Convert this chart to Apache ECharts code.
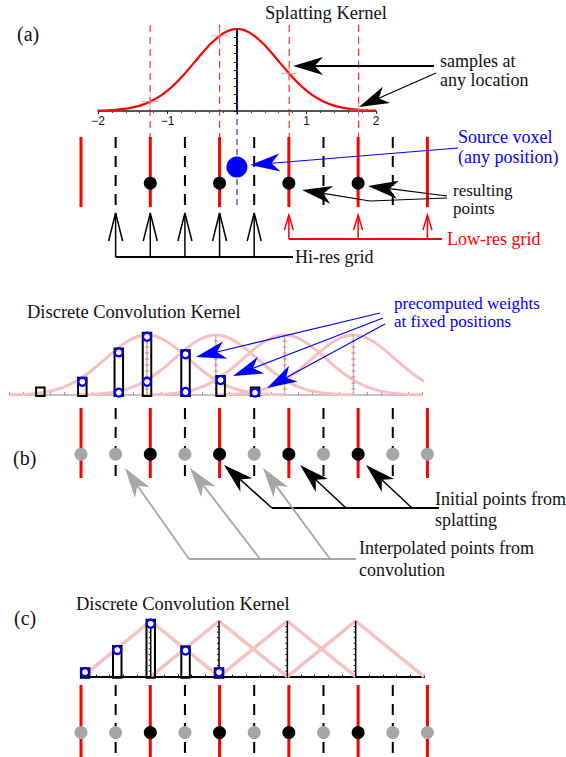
<!DOCTYPE html>
<html>
<head>
<meta charset="utf-8">
<script src="https://cdn.jsdelivr.net/npm/echarts@6/dist/echarts.min.js"></script>
<style>
  html, body { margin: 0; padding: 0; background: #fff; }
  #main { width: 566px; height: 757px; }
</style>
</head>
<body>
<div id="main"></div>
<script>
// ---------- lattice: low-res grid at integers, hi-res grid at half steps ----------
const lowResX = [0, 1, 2, 3, 4, 5];
const hiResX = [0.5, 1.5, 2.5, 3.5, 4.5];

// ---------- (a) splatting ----------
const kernelX = [-2, -1.875, -1.75, -1.625, -1.5, -1.375, -1.25, -1.125, -1, -0.875, -0.75, -0.625,
  -0.5, -0.375, -0.25, -0.125, 0, 0.125, 0.25, 0.375, 0.5, 0.625, 0.75, 0.875, 1, 1.125, 1.25,
  1.375, 1.5, 1.625, 1.75, 1.875, 2];
const kernelY = [0.004, 0.008, 0.014, 0.026, 0.044, 0.072, 0.114, 0.172, 0.249, 0.345, 0.458, 0.581,
  0.707, 0.823, 0.917, 0.979, 1.000, 0.979, 0.917, 0.823, 0.707, 0.581, 0.458, 0.345, 0.249, 0.172,
  0.114, 0.072, 0.044, 0.026, 0.014, 0.008, 0.004];
const kernelTickLabels = [-2, -1, 1, 2];
const sourceVoxelX = 2.25;          // lattice position of the source voxel
const splatPointsX = [1, 2, 3, 4];  // low-res points reached by the kernel
const hiResArrowX = [0.5, 1, 1.5, 2, 2.5];
const lowResArrowX = [3, 4, 5];

// ---------- (b) gaussian convolution ----------
const gaussCenters = [0, 1, 2, 3];
const weightPosB = [-1.55, -0.94, -0.41, 0, 0.56, 1.07, 1.57];
const weightsB = [[], [0.22], [0.71, 0.04], [0.97, 0.22], [0.68, 0.05], [0.25], [0.04]];
const splattedX = [1, 2, 3, 4];
const interpolatedX = [0, 0.5, 1.5, 2.5, 3.5, 4.5, 5];

// ---------- (c) tent convolution ----------
const tentX = [-1, 0, 1];
const tentY = [0, 1, 0];
const tentCenters = [0, 1, 2, 3];
const weightPosC = [-0.96, -0.49, 0, 0.51, 1.0];
const weightsC = [0.08, 0.48, 0.95, 0.47, 0.08];

// ---------- layout & style ----------
const RED = '#ff0000', BLUE = '#0000ff', PINK = '#f9c0c0', GRAY = '#a6a6a6', INK = '#111';
const SERIF = '"Liberation Serif", "Times New Roman", serif';
const DOT_LEVEL = 0.34, SOURCE_LEVEL = 0.57;
const LAT = { min: -1, max: 7, left: 11.7, width: 554.4 };
const grids = [
  { left: 98, top: 29, width: 278, height: 82 },              // (a) kernel
  { left: LAT.left, top: 137, width: LAT.width, height: 70 }, // (a) grid row
  { left: 9.4, top: 335, width: 412.8, height: 60 },          // (b) kernel
  { left: LAT.left, top: 408, width: LAT.width, height: 70 }, // (b) grid row
  { left: 82.4, top: 621, width: 341.6, height: 55.7 },       // (c) kernel
  { left: LAT.left, top: 685, width: LAT.width, height: 72 }  // (c) grid row
];
const BOX = { w: 8.5, pad: 4, below: 1, minH: 8.5 };

const hidden = (i) => ({ gridIndex: i, type: 'value', min: LAT.min, max: LAT.max, show: false });
const hiddenY = (i) => ({ gridIndex: i, type: 'value', min: 0, max: 1, show: false });

function vLines(axis, xs, style, z) {
  return {
    type: 'custom', xAxisIndex: axis, yAxisIndex: axis, clip: false, silent: true, z: z || 2,
    data: xs.map(x => [x, 0]),
    renderItem: (params, api) => {
      const t = api.coord([api.value(0), 1]);
      const b = api.coord([api.value(0), 0]);
      return { type: 'line', shape: { x1: t[0], y1: t[1], x2: b[0], y2: b[1] }, style: Object.assign({}, style) };
    }
  };
}

function dots(axis, xs, color, size, level) {
  return {
    type: 'scatter', xAxisIndex: axis, yAxisIndex: axis, clip: false, silent: true, z: 4,
    symbolSize: size, itemStyle: { color: color, opacity: 1 },
    data: xs.map(x => [x, level])
  };
}

// vertical centre lines of the kernel copies, with small tick marks
function centreLines(axis, xs, stroke, tickStroke, tickBoth) {
  return {
    type: 'custom', xAxisIndex: axis, yAxisIndex: axis, clip: false, silent: true, z: 3,
    data: xs.map(x => [x, 0]),
    renderItem: (params, api) => {
      const x = api.value(0);
      const t = api.coord([x, 1]), b = api.coord([x, 0]);
      const kids = [{ type: 'line', shape: { x1: t[0], y1: t[1], x2: b[0], y2: b[1] }, style: { stroke: stroke, lineWidth: 1.5 } }];
      for (let k = 1; k < 10; k++) {
        const p = api.coord([x, k / 10]);
        kids.push({ type: 'line', shape: { x1: p[0] - 2, y1: p[1], x2: p[0] + (tickBoth ? 2 : 0), y2: p[1] },
          style: { stroke: tickStroke, lineWidth: 1 } });
      }
      return { type: 'group', children: kids };
    }
  };
}

function boxes(axis, pos, tops) {
  return {
    type: 'custom', xAxisIndex: axis, yAxisIndex: axis, clip: false, silent: true, z: 5,
    data: pos.map((p, i) => [p, tops[i]]),
    renderItem: (params, api) => {
      const base = api.coord([api.value(0), 0]);
      const top = api.coord([api.value(0), api.value(1)]);
      const bottom = base[1] + BOX.below;
      const y0 = Math.min(top[1] - BOX.pad, bottom - BOX.minH);
      return { type: 'rect', shape: { x: base[0] - BOX.w / 2, y: y0, width: BOX.w, height: bottom - y0 },
        style: { fill: 'none', stroke: '#000', lineWidth: 2 } };
    }
  };
}

function circles(axis, data) {
  return {
    type: 'scatter', xAxisIndex: axis, yAxisIndex: axis, clip: false, silent: true, z: 6,
    symbolSize: 8, itemStyle: { color: '#fff', borderColor: BLUE, borderWidth: 2.3, opacity: 1 },
    data: data
  };
}

function bracket(xs, color, geo) {
  return {
    type: 'custom', xAxisIndex: 1, yAxisIndex: 1, clip: false, silent: true, z: 4,
    data: xs.map(x => [x, 0]),
    renderItem: (params, api) => {
      const x = api.coord([api.value(0), 0])[0];
      const kids = [
        { type: 'line', shape: { x1: x, y1: geo.base, x2: x, y2: geo.tip }, style: { stroke: color, lineWidth: 1.5 } },
        { type: 'polyline', shape: { points: [[x - geo.half, geo.tip + geo.head], [x, geo.tip], [x + geo.half, geo.tip + geo.head]] },
          style: { stroke: color, lineWidth: 1.5, fill: 'none' } }
      ];
      if (params.dataIndex === 0) {
        kids.push({ type: 'line', shape: { x1: x, y1: geo.base, x2: geo.end, y2: geo.base }, style: { stroke: color, lineWidth: 2 } });
      }
      return { type: 'group', children: kids };
    }
  };
}

// ---------- annotations ----------
function pointer(pts, color, lw) {
  const HEAD = 30, HALF = 9, NOTCH = 0.72;
  const tip = pts[pts.length - 1], prev = pts[pts.length - 2];
  const dx = tip[0] - prev[0], dy = tip[1] - prev[1], d = Math.hypot(dx, dy);
  const ux = dx / d, uy = dy / d, nx = -uy, ny = ux;
  const back = [tip[0] - ux * HEAD, tip[1] - uy * HEAD];
  const notch = [tip[0] - ux * HEAD * NOTCH, tip[1] - uy * HEAD * NOTCH];
  return [
    { type: 'polyline', z: 100, shape: { points: pts.slice(0, -1).concat([notch]) }, style: { stroke: color, lineWidth: lw, fill: 'none' } },
    { type: 'polygon', z: 100, shape: { points: [tip, [back[0] + nx * HALF, back[1] + ny * HALF], notch, [back[0] - nx * HALF, back[1] - ny * HALF]] },
      style: { fill: color } }
  ];
}
function label(text, x, y, color, size) {
  return { type: 'text', z: 100, x: x, y: y,
    style: { text: text, fill: color || INK, font: (size || 18) + 'px ' + SERIF, align: 'left', verticalAlign: 'middle' } };
}
function bar(x1, x2, y, color) {
  return { type: 'line', z: 100, shape: { x1: x1, y1: y, x2: x2, y2: y }, style: { stroke: color, lineWidth: 1.8 } };
}

const annotations = [
  label('(a)', 17, 34, INK, 20),
  label('Splatting Kernel', 265, 13, INK, 18.5),
  label('samples at', 440, 61),
  label('any location', 440, 80),
  label('Source voxel', 458, 137, BLUE),
  label('(any position)', 458, 157, BLUE),
  label('resulting', 453, 190, INK, 17),
  label('points', 453, 208, INK, 17),
  label('Hi-res grid', 295, 257),
  label('Low-res grid', 447, 239, RED),
  label('Discrete Convolution Kernel', 27, 312, INK, 18.5),
  label('precomputed weights', 394, 303, BLUE, 17),
  label('at fixed positions', 394, 321.5, BLUE, 17),
  label('(b)', 13, 458, INK, 20),
  label('Initial points from', 435, 499),
  label('splatting', 435, 520),
  label('Interpolated points from', 359, 548),
  label('convolution', 359, 570),
  label('(c)', 14, 618, INK, 20),
  label('Discrete Convolution Kernel', 76, 604, INK, 18.5),
  bar(272, 439, 508, '#000'),
  bar(189, 356, 559, GRAY)
].concat(
  pointer([[434, 66], [293, 66]], '#000', 2),
  pointer([[436, 73], [359, 107]], '#000', 1.2),
  pointer([[458, 148], [250, 165]], BLUE, 1.2),
  pointer([[447, 198], [370, 201], [302, 190]], '#000', 1.2),
  pointer([[447, 196], [368, 186]], '#000', 1.2),
  pointer([[380, 313], [196, 357]], BLUE, 1.2),
  pointer([[383, 318], [233, 376]], BLUE, 1.2),
  pointer([[385, 324], [267, 388]], BLUE, 1.2),
  pointer([[272, 508], [224, 465]], '#000', 1.5),
  pointer([[346, 508], [300, 465]], '#000', 1.5),
  pointer([[412, 508], [366, 465]], '#000', 1.5),
  pointer([[189, 559], [125, 468]], GRAY, 1.8),
  pointer([[260, 559], [190, 468]], GRAY, 1.8),
  pointer([[330, 559], [263, 468]], GRAY, 1.8)
);

// ---------- derived series data ----------
const kernelAt = (x) => kernelY[kernelX.findIndex(k => Math.abs(k - x) < 1e-9)];
const sampleOffsets = splatPointsX.map(p => p - sourceVoxelX);
const kernelLine = kernelX.map((x, i) => [x, kernelY[i]]);
const topsB = weightsB.map(w => w.length ? Math.max.apply(null, w) : 0);
const circlesB = [];
weightsB.forEach((w, i) => w.forEach(v => circlesB.push([weightPosB[i], v])));

const series = [];

// (a) kernel
series.push({
  type: 'line', xAxisIndex: 0, yAxisIndex: 0, data: kernelLine, smooth: 0.3, showSymbol: false,
  silent: true, z: 3, lineStyle: { color: RED, width: 2.2 }
});
series.push({
  type: 'custom', xAxisIndex: 0, yAxisIndex: 0, clip: false, silent: true, z: 2,
  data: sampleOffsets.map(x => [x, 0]),
  renderItem: (params, api) => {
    const t = api.coord([api.value(0), 1.05]);
    return { type: 'line', shape: { x1: t[0], y1: t[1], x2: t[0], y2: grids[1].top },
      style: { stroke: RED, lineWidth: 1, lineDash: [7, 5] } };
  }
});
series.push({
  type: 'custom', xAxisIndex: 0, yAxisIndex: 0, clip: false, silent: true, z: 4,
  data: [[0, 0]],
  renderItem: (params, api) => {
    const t = api.coord([api.value(0), 1]);
    return { type: 'line', shape: { x1: t[0], y1: t[1], x2: t[0], y2: grids[1].top + grids[1].height },
      style: { stroke: BLUE, lineWidth: 1, lineDash: [6, 4] } };
  }
});
series.push({
  type: 'scatter', xAxisIndex: 0, yAxisIndex: 0, clip: false, silent: true, z: 5,
  symbol: 'path://M0,-10L0,10M-10,0L10,0', symbolSize: 16,
  itemStyle: { color: 'none', borderColor: '#ff8080', borderWidth: 1 },
  data: sampleOffsets.map(x => [x, kernelAt(x)])
});

// (a) grid row
series.push(vLines(1, lowResX, { stroke: RED, lineWidth: 3 }));
series.push(vLines(1, hiResX, { stroke: '#000', lineWidth: 2, lineDash: [11, 8] }));
series.push(dots(1, splatPointsX, '#000', 13, DOT_LEVEL));
series.push(dots(1, [sourceVoxelX], BLUE, 21, SOURCE_LEVEL));
series.push(bracket(hiResArrowX, '#000', { tip: 213, base: 257, head: 28, half: 7, end: 293 }));
series.push(bracket(lowResArrowX, RED, { tip: 215, base: 239, head: 15, half: 4.5, end: 442 }));

// (b) gaussian kernels
gaussCenters.forEach(c => series.push({
  type: 'line', xAxisIndex: 2, yAxisIndex: 2, clip: false, silent: true, z: 2,
  data: kernelX.map((x, i) => [x + c, kernelY[i]]), smooth: 0.3, showSymbol: false,
  lineStyle: { color: PINK, width: 3 }
}));
series.push(centreLines(2, gaussCenters, '#b8b8b8', '#ff6a6a', true));
series.push(boxes(2, weightPosB, topsB));
series.push(circles(2, circlesB));

// (b) grid row
series.push(vLines(3, lowResX, { stroke: RED, lineWidth: 3 }));
series.push(vLines(3, hiResX, { stroke: '#000', lineWidth: 2, lineDash: [11, 8] }));
series.push(dots(3, interpolatedX, GRAY, 13, DOT_LEVEL));
series.push(dots(3, splattedX, '#000', 13, DOT_LEVEL));

// (c) tent kernels
tentCenters.forEach(c => series.push({
  type: 'line', xAxisIndex: 4, yAxisIndex: 4, clip: false, silent: true, z: 2,
  data: tentX.map((x, i) => [x + c, tentY[i]]), showSymbol: false,
  lineStyle: { color: PINK, width: 3.5 }
}));
series.push(centreLines(4, tentCenters, '#000', '#000', false));
series.push(boxes(4, weightPosC, weightsC));
series.push(circles(4, weightPosC.map((p, i) => [p, weightsC[i]])));

// (c) grid row
series.push(vLines(5, lowResX, { stroke: RED, lineWidth: 3 }));
series.push(vLines(5, hiResX, { stroke: '#000', lineWidth: 2, lineDash: [11, 8] }));
series.push(dots(5, interpolatedX, GRAY, 13, DOT_LEVEL));
series.push(dots(5, splattedX, '#000', 13, DOT_LEVEL));

const chart = echarts.init(document.getElementById('main'), null, { renderer: 'svg' });
chart.setOption({
  animation: false,
  backgroundColor: '#fff',
  grid: grids,
  xAxis: [
    {
      gridIndex: 0, type: 'value', min: -2, max: 2, interval: 1,
      axisLine: { onZero: false, lineStyle: { color: '#222', width: 1.5 } },
      axisTick: { show: true, length: 3, lineStyle: { color: '#222' } },
      minorTick: { show: true, splitNumber: 5, length: 2, lineStyle: { color: '#444' } },
      axisLabel: { fontFamily: '"Liberation Sans", Arial, sans-serif', fontSize: 12, color: INK, margin: 4,
        formatter: v => kernelTickLabels.indexOf(v) >= 0 ? String(v).replace('-', '\u2212') : '' },
      splitLine: { show: false }, minorSplitLine: { show: false }
    },
    hidden(1),
    {
      gridIndex: 2, type: 'value', min: -2, max: 4, interval: 0.2,
      axisLine: { onZero: false, lineStyle: { color: '#c4c4c4', width: 2 } },
      axisTick: { show: true, inside: true, length: 3, lineStyle: { color: '#ff6a6a', width: 1 } },
      axisLabel: { show: false }, splitLine: { show: false }
    },
    hidden(3),
    {
      gridIndex: 4, type: 'value', min: -1, max: 4, interval: 0.2,
      axisLine: { onZero: false, lineStyle: { color: '#000', width: 2 } },
      axisTick: { show: true, inside: true, length: 2, lineStyle: { color: '#000', width: 1 } },
      axisLabel: { show: false }, splitLine: { show: false }
    },
    hidden(5)
  ],
  yAxis: [
    {
      gridIndex: 0, type: 'value', min: 0, max: 1, interval: 0.5,
      axisLine: { show: true, onZero: true, lineStyle: { color: INK, width: 2 } },
      axisTick: { show: true, length: 3, lineStyle: { color: INK } },
      minorTick: { show: true, splitNumber: 5, length: 3, lineStyle: { color: INK } },
      axisLabel: { show: false }, splitLine: { show: false }, minorSplitLine: { show: false }
    },
    hiddenY(1), hiddenY(2), hiddenY(3), hiddenY(4), hiddenY(5)
  ],
  series: series,
  graphic: { elements: annotations }
});
</script>
</body>
</html>
